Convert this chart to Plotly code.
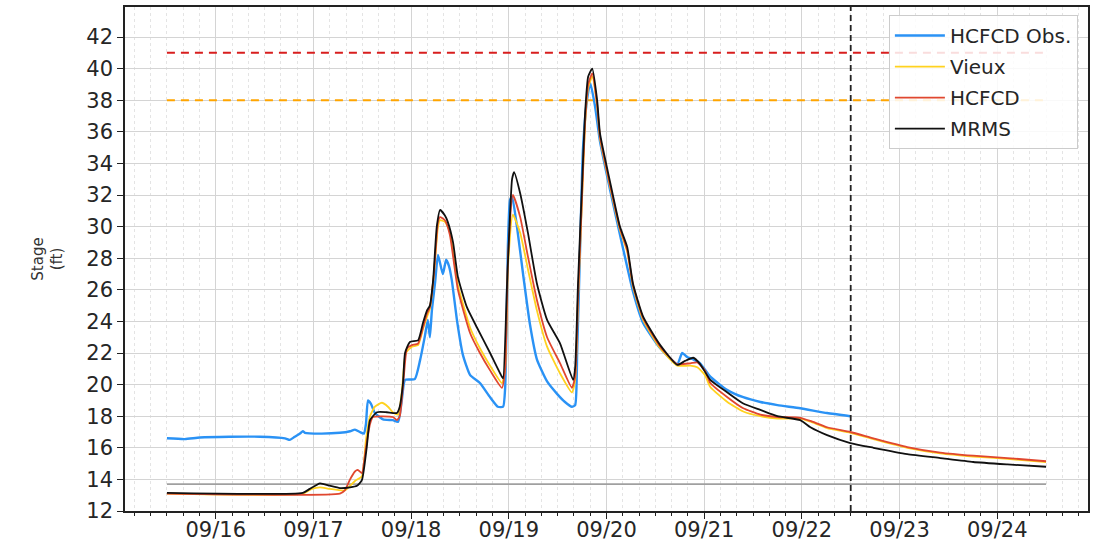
import pandas as pd
import plotly.graph_objects as go

BASE = pd.Timestamp("2019-09-16 00:00")

# ---- data (hours relative to 09/16 00:00, stage in ft) ----
obs_h = [-12.0, -7.6, -3.9, 3.4, 10.8, 17.0, 18.2, 19.4, 20.7, 21.4, 21.9, 25.6, 30.5, 33.0, 34.2,
         35.4, 36.4, 36.9, 37.4, 38.1, 39.1, 41.1, 43.5, 44.8, 45.7, 46.5, 48.9, 50.2, 51.4, 52.1,
         52.6, 53.1, 53.9, 54.6, 55.8, 56.6, 57.3, 58.0, 59.3, 60.7, 62.5, 64.9, 67.4, 69.3, 70.6,
         71.1, 71.8, 72.3, 72.8, 74.0, 75.5, 77.2, 78.9, 81.4, 83.9, 85.8, 87.5, 88.3, 88.8, 89.5,
         90.2, 91.2, 92.0, 93.2, 94.4, 96.9, 99.3, 102.5, 105.0, 109.2, 113.4, 114.6, 115.8, 117.3,
         119.0, 121.5, 125.7, 129.6, 133.8, 138.0, 143.6, 150.2, 155.9]
obs_v = [16.6, 16.55, 16.65, 16.7, 16.7, 16.6, 16.5, 16.7, 16.9, 17.05, 16.95, 16.9, 16.95, 17.05, 17.15,
         17.0, 16.9, 17.5, 19.0, 18.8, 18.2, 17.8, 17.75, 17.65, 19.0, 20.3, 20.35, 21.55, 23.1, 24.1,
         23.0, 24.7, 26.5, 28.2, 27.0, 27.9, 27.5, 26.6, 24.0, 21.9, 20.6, 20.1, 19.2, 18.6, 18.6,
         19.8, 29.0, 31.7, 31.9, 30.0, 27.0, 23.8, 21.6, 20.2, 19.4, 18.9, 18.6, 18.7, 22.2, 28.5,
         34.8, 38.0, 39.1, 37.6, 35.4, 32.3, 29.5, 25.9, 23.9, 22.3, 21.3, 22.0, 21.75, 21.6,
         21.35, 20.5, 19.65, 19.2, 18.9, 18.7, 18.5, 18.2, 18.0]

vieux_h = [-12.0, 21.4, 23.6, 25.6, 28.0, 31.7, 34.2, 35.9, 36.9, 37.9, 39.1, 40.8, 42.3, 43.5, 44.8,
           45.7, 46.7, 48.2, 49.7, 50.9, 51.9, 52.6, 53.6, 54.6, 55.1, 56.3, 57.5, 59.5, 62.5, 64.9,
           67.4, 70.3, 71.1, 71.8, 73.0, 74.8, 76.7, 78.9, 81.4, 84.6, 87.5, 88.3, 89.0, 90.0, 90.7,
           91.5, 92.5, 93.7, 94.4, 96.9, 99.3, 101.1, 102.5, 105.0, 109.2, 113.4, 116.6, 118.3, 120.2,
           121.5, 125.7, 129.6, 133.8, 138.0, 143.6, 146.1, 150.2, 155.9, 161.6, 169.9, 178.0, 186.1,
           194.5, 204.0]
vieux_v = [13.1, 13.1, 13.4, 13.5, 13.4, 13.3, 13.9, 14.2, 16.5, 18.0, 18.6, 18.85, 18.6, 18.25, 18.1,
           19.5, 22.0, 22.4, 22.5, 23.5, 24.3, 24.8, 27.0, 30.0, 30.4, 30.3, 29.7, 26.3, 23.6, 22.3,
           21.2, 20.1, 21.0, 27.5, 30.75, 29.6, 27.3, 24.7, 22.4, 20.7, 19.5, 20.3, 25.3, 31.8, 36.3,
           38.8, 39.5, 37.6, 35.6, 32.5, 29.8, 28.4, 26.2, 24.1, 22.3, 21.2, 21.2, 21.1, 20.6,
           19.85, 18.9, 18.3, 18.0, 17.85, 17.85, 17.65, 17.25, 16.95, 16.55, 16.0, 15.65, 15.45,
           15.3, 15.1]

hcfcd_h = [-12.0, 30.5, 31.7, 33.0, 34.2, 34.9, 35.9, 36.9, 37.9, 38.6, 43.5, 44.5, 45.2, 46.2, 47.0,
           48.2, 49.7, 50.9, 51.9, 52.6, 53.6, 54.6, 55.1, 56.3, 57.5, 59.5, 62.5, 64.9, 67.4, 70.3,
           71.1, 71.8, 73.0, 74.8, 76.7, 78.9, 81.4, 84.6, 87.5, 88.3, 89.0, 90.0, 90.7, 91.5, 92.5,
           93.7, 94.4, 96.9, 99.3, 101.1, 102.5, 105.0, 109.2, 113.4, 116.6, 118.3, 120.2, 121.5,
           125.7, 129.6, 133.8, 138.0, 143.6, 146.1, 150.2, 155.9, 161.6, 169.9, 178.0, 186.1, 194.5,
           204.0]
hcfcd_v = [13.1, 13.1, 13.3, 14.0, 14.5, 14.6, 14.4, 16.0, 17.5, 17.95, 17.95, 17.75, 18.0, 20.5, 22.3,
           22.5, 22.6, 23.6, 24.5, 24.9, 27.0, 30.3, 30.6, 30.4, 29.5, 26.0, 23.25, 22.0, 20.9, 19.8,
           21.0, 28.0, 32.0, 30.6, 28.1, 25.35, 23.0, 21.35, 19.8, 20.5, 25.5, 32.0, 36.5, 39.0, 39.7,
           37.7, 35.7, 32.6, 29.9, 28.5, 26.3, 24.2, 22.4, 21.3, 21.35, 21.4, 20.9, 20.1,
           19.2, 18.5, 18.1, 17.95, 17.9, 17.7, 17.3, 17.0, 16.6, 16.05, 15.7, 15.5, 15.35,
           15.15]

mrms_h = [-12.0, 21.4, 23.1, 25.6, 28.0, 30.5, 33.0, 34.7, 35.9, 37.1, 37.9, 39.6, 42.0, 44.5, 45.2,
          46.0, 46.5, 47.7, 49.7, 50.9, 51.9, 52.6, 53.4, 54.3, 55.1, 56.3, 57.0, 58.3, 59.5, 61.7,
          64.2, 67.4, 70.3, 70.6, 71.6, 72.8, 73.3, 74.8, 76.7, 78.9, 81.4, 84.6, 87.8, 88.3, 89.0,
          90.0, 90.7, 91.5, 92.5, 93.7, 94.4, 96.9, 99.3, 101.1, 102.5, 105.0, 109.2, 113.4, 115.3,
          117.3, 119.0, 121.5, 125.7, 129.6, 133.8, 138.0, 143.6, 146.1, 150.2, 155.9, 161.6, 169.9,
          178.0, 186.1, 194.5, 204.0]
mrms_v = [13.15, 13.15, 13.4, 13.75, 13.6, 13.45, 13.5, 13.6, 13.95, 16.05, 17.75, 18.25, 18.25, 18.2, 18.6,
          20.1, 22.0, 22.7, 22.8, 23.9, 24.7, 25.0, 26.6, 30.0, 31.05, 30.7, 30.3, 29.0, 26.8, 24.9,
          23.6, 22.0, 20.5, 20.4, 26.6, 33.0, 33.45, 32.1, 29.6, 26.4, 24.1, 22.6, 20.3, 21.1, 26.4,
          32.7, 37.0, 39.5, 40.0, 38.0, 35.9, 32.8, 30.0, 28.7, 26.4, 24.3, 22.5, 21.25, 21.5,
          21.7, 21.3, 20.3, 19.5, 18.8, 18.4, 18.0, 17.75, 17.3, 16.8, 16.3, 16.0, 15.6,
          15.35, 15.1, 14.95, 14.8]

series_names = ["HCFCD Obs.", "Vieux", "HCFCD", "MRMS"]
series_colors = ["#2a92f5", "#ffd21f", "#e0472f", "#111111"]

span_h = [-12.0, 204.0]          # period of record
major_flood = 41.0               # red dashed level
minor_flood = 38.0               # orange dashed level
low_level = 13.7                 # grey reference level
forecast_h = 156.0               # 09/22 12:00 vertical marker

x_tickvals = ["2019-09-16", "2019-09-17", "2019-09-18", "2019-09-19", "2019-09-20",
              "2019-09-21", "2019-09-22", "2019-09-23", "2019-09-24"]
x_ticktext = ["09/16", "09/17", "09/18", "09/19", "09/20", "09/21", "09/22", "09/23", "09/24"]
y_ticks = list(range(12, 43, 2))


def t(hours):
    return BASE + pd.to_timedelta(hours, unit="h")


fig = go.Figure()

span_t = t(span_h)
fig.add_trace(go.Scatter(x=span_t, y=[low_level] * 2, mode="lines",
                         line=dict(color="#a0a0a0", width=1.6), showlegend=False, hoverinfo="skip"))
fig.add_trace(go.Scatter(x=span_t, y=[major_flood] * 2, mode="lines",
                         line=dict(color="#d81e1e", width=2, dash="8px,6px"), showlegend=False))
fig.add_trace(go.Scatter(x=span_t, y=[minor_flood] * 2, mode="lines",
                         line=dict(color="#ffa500", width=2, dash="8px,6px"), showlegend=False))

data = [(obs_h, obs_v), (vieux_h, vieux_v), (hcfcd_h, hcfcd_v), (mrms_h, mrms_v)]
widths = [2.4, 1.8, 1.8, 1.8]
for i, ((hh, vv), name, col, w) in enumerate(zip(data, series_names, series_colors, widths)):
    fig.add_trace(go.Scatter(x=t(hh), y=vv, mode="lines", name=name, legendgroup=f"g{i}",
                             line=dict(color=col, width=w, shape="spline", smoothing=0.5)))

fig.add_shape(type="line", xref="x", yref="paper", x0=t([forecast_h])[0], x1=t([forecast_h])[0],
              y0=0, y1=1, line=dict(color="#222222", width=1.8, dash="6px,4px"))

fig.update_layout(
    width=1097, height=546,
    margin=dict(l=125, r=9, t=7, b=35, autoexpand=False),
    paper_bgcolor="white", plot_bgcolor="white",
    font=dict(family="DejaVu Sans", color="#262626"),
    legend=dict(x=0.9895, y=0.984, xanchor="right", yanchor="top",
                bgcolor="rgba(255,255,255,0.85)", bordercolor="#cccccc", borderwidth=1,
                font=dict(size=20, color="#262626"), tracegroupgap=2, itemwidth=50),
    showlegend=True,
)

fig.update_xaxes(
    range=[t([-22.3])[0], t([214.3])[0]],
    tickvals=x_tickvals, ticktext=x_ticktext,
    ticks="outside", ticklen=6, tickwidth=1.2, tickcolor="#222",
    tickfont=dict(size=21, color="#262626"), ticklabelstandoff=-7,
    showline=True, linecolor="#222", linewidth=1.5, mirror=True,
    showgrid=True, gridcolor="#d4d4d4", gridwidth=1,
    minor=dict(dtick=4 * 3600 * 1000, tick0="2019-09-16", ticks="outside", ticklen=3,
               tickcolor="#222", showgrid=True, gridcolor="#e4e4e4", griddash="dot", gridwidth=1),
    zeroline=False, automargin=False,
)
fig.update_yaxes(
    range=[12, 43.9],
    tickvals=y_ticks,
    ticks="outside", ticklen=6, tickwidth=1.2, tickcolor="#222",
    tickfont=dict(size=21, color="#262626"),
    showline=True, linecolor="#222", linewidth=1.5, mirror=True,
    showgrid=True, gridcolor="#d4d4d4", gridwidth=1,
    zeroline=False, automargin=False,
    title=dict(text="Stage<br>(ft)", font=dict(size=15, color="#333"), standoff=20),
)

fig.write_html("out.html", config={"displayModeBar": False},
               post_script="document.body.style.margin='0';document.body.style.overflow='hidden';")
